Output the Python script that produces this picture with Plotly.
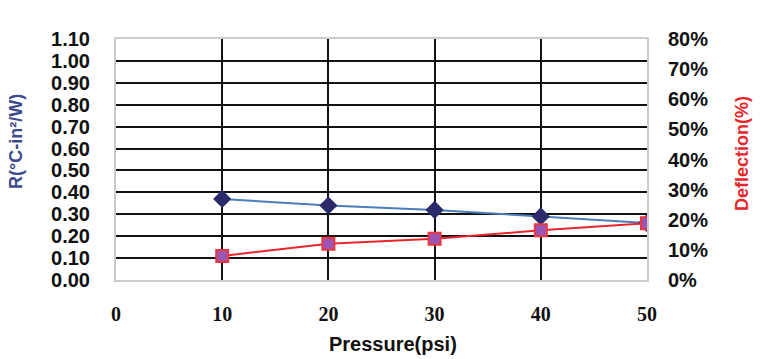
import plotly.graph_objects as go

pressure = [10, 20, 30, 40, 50]
resistance = [0.37, 0.34, 0.32, 0.29, 0.26]
deflection = [8.0, 12.0, 13.7, 16.5, 18.8]

left_ticks = [round(i * 0.1, 2) for i in range(12)]
left_labels = [f"{v:.2f}" for v in left_ticks]
right_ticks = list(range(0, 81, 10))
right_labels = [f"{v}%" for v in right_ticks]
x_ticks = [0, 10, 20, 30, 40, 50]

W, H = 761, 359
L, T = 116, 39
R_, B = W - 647, H - 280

fig = go.Figure()
fig.add_trace(go.Scatter(
    x=pressure, y=resistance, mode="lines+markers", name="R",
    line=dict(color="#4A7EBB", width=2),
    marker=dict(symbol="diamond", size=14, color="#2B2B6B"),
    yaxis="y",
))
fig.add_trace(go.Scatter(
    x=pressure, y=deflection, mode="lines+markers", name="Deflection",
    line=dict(color="#E8262A", width=2),
    marker=dict(symbol="square", size=12, color="#9B55B5",
                line=dict(color="#E8383D", width=2)),
    yaxis="y2",
))

fig.update_layout(
    width=W, height=H,
    margin=dict(l=L, r=R_, t=T, b=B, autoexpand=False),
    paper_bgcolor="white", plot_bgcolor="white",
    showlegend=False,
    xaxis=dict(
        range=[0, 50], tickvals=x_ticks, ticktext=[str(v) for v in x_ticks],
        showgrid=True, gridcolor="#111111", gridwidth=1.5,
        zeroline=False, showline=True, linecolor="#CCCCCC", linewidth=2, mirror=True,
        ticks="outside", ticklen=15, tickcolor="rgba(0,0,0,0)",
        tickfont=dict(family="Liberation Serif", size=20, color="#111111", weight="bold"),
    ),
    yaxis=dict(
        range=[0, 1.1], tickvals=left_ticks, ticktext=left_labels,
        showgrid=True, gridcolor="#111111", gridwidth=1.5,
        zeroline=False, showline=True, linecolor="#CCCCCC", linewidth=2, mirror=True,
        ticks="outside", ticklen=20, tickcolor="rgba(0,0,0,0)",
        tickfont=dict(family="Liberation Sans", size=20, color="#111111", weight="bold"),
    ),
    yaxis2=dict(
        range=[0, 80], tickvals=right_ticks, ticktext=right_labels,
        overlaying="y", side="right", showgrid=False, zeroline=False,
        ticks="outside", ticklen=16, tickcolor="rgba(0,0,0,0)",
        tickfont=dict(family="Liberation Sans", size=20, color="#111111", weight="bold"),
    ),
)

pw = W - L - R_
ph = H - T - B


def px2paper(sx, sy):
    return (sx - L) / pw, (H - B - sy) / ph


titles = [
    ("Pressure(psi)", 393, 344, 0, "#111111", 20),
    ("R(°C-in²/W)", 16, 142, -90, "#3D4A8A", 18),
    ("Deflection(%)", 742, 154, -90, "#E8262A", 18),
]
for text, sx, sy, ang, col, sz in titles:
    ax, ay = px2paper(sx, sy)
    fig.add_annotation(text=text, x=ax, y=ay, xref="paper", yref="paper",
                       xanchor="center", yanchor="middle", textangle=ang,
                       showarrow=False,
                       font=dict(family="Liberation Sans", size=sz, color=col, weight="bold"))

fig.write_html("out.html",
               config={"displayModeBar": False},
               post_script="document.body.style.margin='0';document.body.style.overflow='hidden';")
